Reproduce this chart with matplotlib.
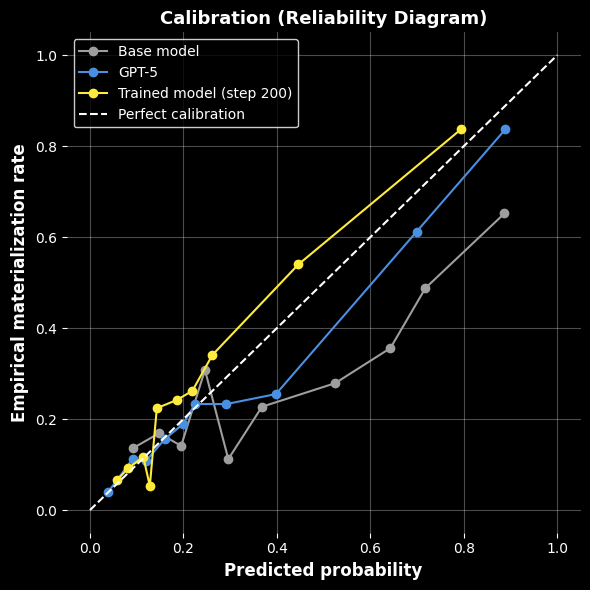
import numpy as np
import matplotlib
matplotlib.use("Agg")
import matplotlib.pyplot as plt

# reliability curve data
base_pred = [0.092, 0.148, 0.195, 0.246, 0.296, 0.368, 0.525, 0.643, 0.718, 0.887]
base_emp = [0.136, 0.169, 0.141, 0.308, 0.112, 0.227, 0.279, 0.356, 0.488, 0.652]

gpt_pred = [0.039, 0.091, 0.120, 0.160, 0.199, 0.225, 0.292, 0.398, 0.699, 0.889]
gpt_emp = [0.040, 0.112, 0.108, 0.156, 0.189, 0.233, 0.233, 0.255, 0.612, 0.837]

trained_pred = [0.058, 0.082, 0.114, 0.128, 0.143, 0.186, 0.219, 0.262, 0.446, 0.794]
trained_emp = [0.066, 0.092, 0.117, 0.053, 0.224, 0.242, 0.262, 0.341, 0.540, 0.837]

plt.style.use("dark_background")
fig, ax = plt.subplots(figsize=(5.9, 5.9), dpi=100)

ax.plot(base_pred, base_emp, "o-", color="#9e9e9e", label="Base model")
ax.plot(gpt_pred, gpt_emp, "o-", color="#4a90e2", label="GPT-5")
ax.plot(trained_pred, trained_emp, "o-", color="#ffeb3b", label="Trained model (step 200)")
ax.plot([0, 1], [0, 1], "--", color="white", label="Perfect calibration")

ax.set_xlim(-0.05, 1.05)
ax.set_ylim(-0.05, 1.05)
ax.set_xlabel("Predicted probability", fontsize=12, fontweight="bold")
ax.set_ylabel("Empirical materialization rate", fontsize=12, fontweight="bold")
ax.set_title("Calibration (Reliability Diagram)", fontsize=13, fontweight="bold")
ax.grid(True, color="white", alpha=0.3)
for s in ax.spines.values():
    s.set_visible(False)

leg = ax.legend(loc="upper left", facecolor="black", edgecolor="white", framealpha=0.8)

plt.subplots_adjust(left=0.113, right=0.984, top=0.945, bottom=0.097)
plt.savefig("out.png", dpi=100)
